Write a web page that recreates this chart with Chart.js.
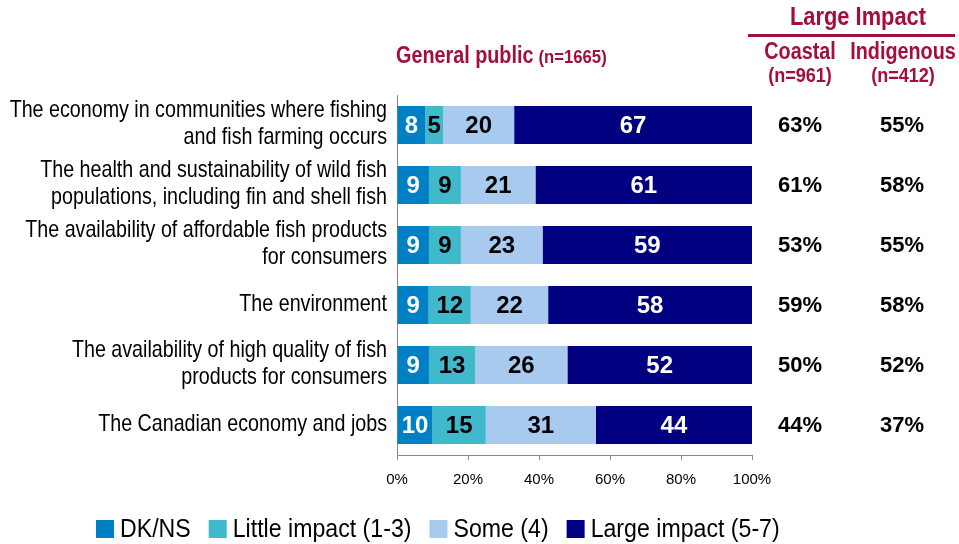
<!DOCTYPE html>
<html>
<head>
<meta charset="utf-8">
<script src="https://cdn.jsdelivr.net/npm/chart.js@4.4.1/dist/chart.umd.min.js"></script>
<style>
  html, body { margin: 0; padding: 0; background: #fff; }
  #wrap { position: relative; width: 959px; height: 544px; }
</style>
</head>
<body>
<div id="wrap"><canvas id="myChart" width="959" height="544"></canvas></div>
<script>
// categories (rows, top to bottom)
const categories = [
  ['The economy in communities where fishing', 'and fish farming occurs'],
  ['The health and sustainability of wild fish', 'populations, including fin and shell fish'],
  ['The availability of affordable fish products', 'for consumers'],
  'The environment',
  ['The availability of high quality of fish', 'products for consumers'],
  'The Canadian economy and jobs'
];

// general public (n=1665), % per answer
const dkns = [8, 9, 9, 9, 9, 10];
const little = [5, 9, 9, 12, 13, 15];
const some = [20, 21, 23, 22, 26, 31];
const large = [67, 61, 59, 58, 52, 44];

// large impact, other samples
const coastal = [63, 61, 53, 59, 50, 44];
const indigenous = [55, 58, 55, 58, 52, 37];

const xTicks = [0, 20, 40, 60, 80, 100];

const seriesNames = ['DK/NS', 'Little impact (1-3)', 'Some (4)', 'Large impact (5-7)'];
const seriesColors = ['#0080C4', '#40B9CD', '#A7CAEE', '#000080'];
const labelColors = ['#fff', '#000', '#000', '#fff'];

const red = '#A50D3C';
const arial = '"Liberation Sans", Arial, sans-serif';

// no narrow face installed, so squeeze Liberation Sans sideways
function narrowText(ctx, text, x, y, sx, align) {
  ctx.save();
  ctx.translate(x, y);
  ctx.scale(sx, 1);
  ctx.textAlign = align;
  ctx.fillText(text, 0, 0);
  ctx.restore();
  return ctx.measureText(text).width * sx;
}

// rows are drawn as 100% stacks, labels keep the rounded values
const raw = [dkns, little, some, large];
const totals = categories.map((c, i) => raw.reduce((s, arr) => s + arr[i], 0));

const datasets = raw.map((arr, k) => ({
  label: seriesNames[k],
  data: arr.map((v, i) => v / totals[i] * 100),
  values: arr,
  backgroundColor: seriesColors[k],
  borderWidth: 0,
  barPercentage: 0.634,
  categoryPercentage: 1.0
}));

// numbers in the bars
const barLabels = {
  id: 'barLabels',
  afterDatasetsDraw(chart) {
    const { ctx } = chart;
    ctx.save();
    ctx.font = 'bold 24px ' + arial;
    ctx.textAlign = 'center';
    ctx.textBaseline = 'middle';
    chart.data.datasets.forEach((ds, k) => {
      const meta = chart.getDatasetMeta(k);
      meta.data.forEach((bar, i) => {
        const cx = (bar.x + bar.base) / 2;
        ctx.fillStyle = labelColors[k];
        ctx.fillText(ds.values[i], cx, bar.y + 1);
      });
    });
    ctx.restore();
  }
};

// category labels, headers, right-hand columns and legend
const sideText = {
  id: 'sideText',
  afterDraw(chart) {
    const { ctx } = chart;
    const y = chart.scales.y;
    ctx.save();
    ctx.textBaseline = 'middle';

    // category labels
    ctx.fillStyle = '#000';
    ctx.font = '24px ' + arial;
    categories.forEach((c, i) => {
      const lines = Array.isArray(c) ? c : [c];
      const py = y.getPixelForValue(i) - 1;
      const lh = 27;
      lines.forEach((line, j) => {
        narrowText(ctx, line, 387, py + (j - (lines.length - 1) / 2) * lh, 0.82, 'right');
      });
    });

    ctx.fillStyle = red;
    // General public header
    ctx.font = 'bold 23px ' + arial;
    const w = narrowText(ctx, 'General public', 396, 57, 0.86, 'left');
    ctx.font = 'bold 19px ' + arial;
    narrowText(ctx, '(n=1665)', 396 + w + 5, 58, 0.88, 'left');

    // Large Impact header
    ctx.font = 'bold 26px ' + arial;
    narrowText(ctx, 'Large Impact', 858, 18, 0.84, 'center');
    ctx.fillRect(748, 34, 207, 3);
    ctx.font = 'bold 23px ' + arial;
    narrowText(ctx, 'Coastal', 800, 53, 0.86, 'center');
    narrowText(ctx, 'Indigenous', 903, 53, 0.86, 'center');
    ctx.font = 'bold 21px ' + arial;
    narrowText(ctx, '(n=961)', 800, 76, 0.86, 'center');
    narrowText(ctx, '(n=412)', 903, 76, 0.86, 'center');

    // large impact values
    ctx.fillStyle = '#000';
    ctx.textAlign = 'center';
    ctx.font = 'bold 22px ' + arial;
    categories.forEach((c, i) => {
      const py = y.getPixelForValue(i) + 1;
      ctx.fillText(coastal[i] + '%', 800, py);
      ctx.fillText(indigenous[i] + '%', 902, py);
    });

    // legend
    let lx = 96;
    const ly = 529;
    ctx.font = '26px ' + arial;
    chart.data.datasets.forEach(ds => {
      ctx.fillStyle = ds.backgroundColor;
      ctx.fillRect(lx, ly - 9, 18, 18);
      ctx.fillStyle = '#000';
      const tw = narrowText(ctx, ds.label, lx + 24, ly + 1, 0.89, 'left');
      lx += 24 + tw + 18;
    });
    ctx.restore();
  }
};

const ctx = document.getElementById('myChart').getContext('2d');
const myChart = new Chart(ctx, {
  type: 'bar',
  data: {
    labels: categories,
    datasets: datasets
  },
  options: {
    indexAxis: 'y',
    responsive: false,
    animation: false,
    layout: {
      padding: { top: 95, right: 207, left: 0, bottom: 0 }
    },
    scales: {
      x: {
        stacked: true,
        min: 0,
        max: 100,
        afterBuildTicks(scale) {
          scale.ticks = xTicks.map(v => ({ value: v }));
        },
        afterFit(scale) {
          scale.height = 89;
        },
        ticks: {
          callback: v => v + '%',
          font: { family: arial, size: 15 },
          color: '#000',
          padding: 11,
          maxRotation: 0
        },
        grid: {
          drawOnChartArea: false,
          drawTicks: true,
          tickLength: 5,
          color: '#888'
        },
        border: { color: '#888', width: 1 }
      },
      y: {
        stacked: true,
        afterFit(scale) {
          scale.width = 397;
        },
        ticks: { display: false },
        grid: {
          drawOnChartArea: false,
          drawTicks: false
        },
        border: { color: '#888', width: 1 }
      }
    },
    plugins: {
      legend: { display: false },
      tooltip: { enabled: false }
    }
  },
  plugins: [barLabels, sideText]
});
</script>
</body>
</html>
